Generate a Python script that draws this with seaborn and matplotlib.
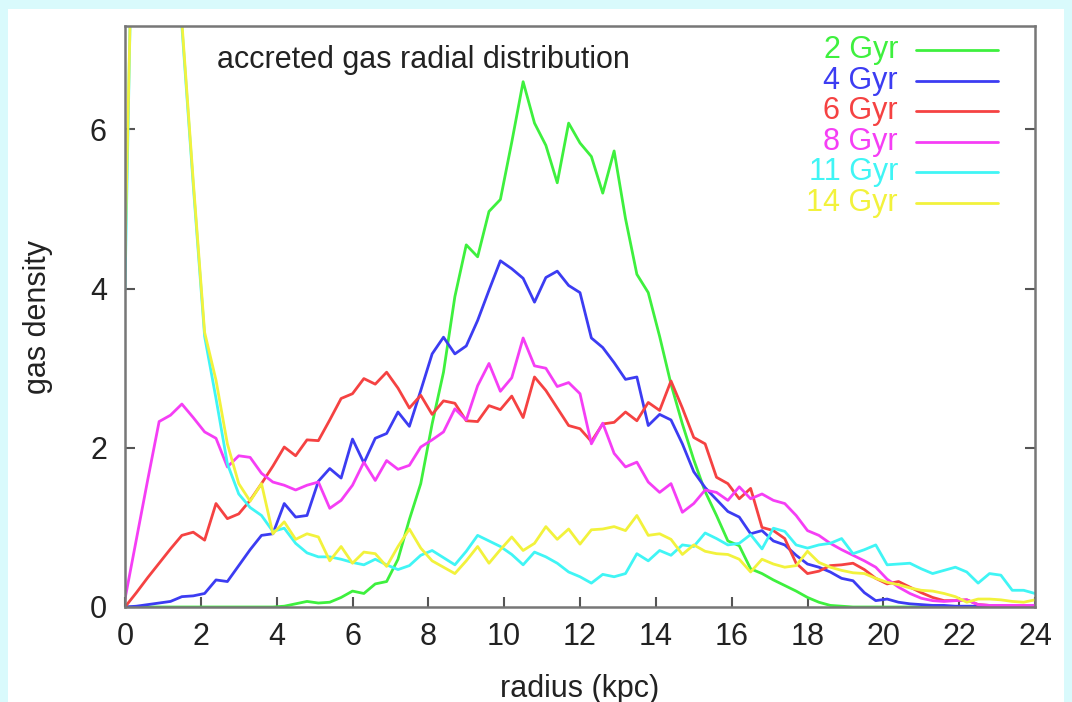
import matplotlib
matplotlib.use("Agg")
import matplotlib.pyplot as plt
from matplotlib.patches import Rectangle
import pandas as pd
import seaborn as sns

# Radial bins (kpc)
radius = [0.0, 0.3, 0.6, 0.9, 1.2, 1.5, 1.8, 2.1, 2.4, 2.7,
          3.0, 3.3, 3.6, 3.9, 4.2, 4.5, 4.8, 5.1, 5.4, 5.7,
          6.0, 6.3, 6.6, 6.9, 7.2, 7.5, 7.8, 8.1, 8.4, 8.7,
          9.0, 9.3, 9.6, 9.9, 10.2, 10.5, 10.8, 11.1, 11.4, 11.7,
          12.0, 12.3, 12.6, 12.9, 13.2, 13.5, 13.8, 14.1, 14.4, 14.7,
          15.0, 15.3, 15.6, 15.9, 16.2, 16.5, 16.8, 17.1, 17.4, 17.7,
          18.0, 18.3, 18.6, 18.9, 19.2, 19.5, 19.8, 20.1, 20.4, 20.7,
          21.0, 21.3, 21.6, 21.9, 22.2, 22.5, 22.8, 23.1, 23.4, 23.7,
          24.0]

density_2gyr = [0, 0, 0, 0, 0, 0, 0, 0, 0, 0,
                0, 0, 0, 0, 0.01, 0.04, 0.07, 0.05, 0.06, 0.12,
                0.2, 0.17, 0.29, 0.32, 0.6, 1.1, 1.55, 2.3, 2.95, 3.9,
                4.55, 4.4, 4.97, 5.12, 5.84, 6.6, 6.08, 5.8, 5.33, 6.08,
                5.83, 5.66, 5.2, 5.73, 4.88, 4.18, 3.95, 3.4, 2.8, 2.3,
                1.85, 1.45, 1.15, 0.83, 0.77, 0.48, 0.42, 0.34, 0.27, 0.2,
                0.12, 0.06, 0.02, 0.01, 0, 0, 0, 0, 0, 0,
                0, 0, 0, 0, 0, 0, 0, 0, 0, 0,
                0]

density_4gyr = [0, 0.01, 0.03, 0.05, 0.07, 0.13, 0.14, 0.17, 0.34, 0.32,
                0.52, 0.72, 0.9, 0.92, 1.3, 1.13, 1.15, 1.58, 1.74, 1.62,
                2.11, 1.81, 2.12, 2.18, 2.45, 2.27, 2.72, 3.18, 3.39, 3.18,
                3.28, 3.6, 3.98, 4.35, 4.25, 4.13, 3.83, 4.14, 4.22, 4.04,
                3.95, 3.38, 3.26, 3.07, 2.86, 2.89, 2.28, 2.42, 2.35, 2.05,
                1.7, 1.5, 1.35, 1.2, 1.13, 0.92, 0.96, 0.83, 0.78, 0.65,
                0.54, 0.5, 0.44, 0.36, 0.33, 0.18, 0.08, 0.1, 0.06, 0.04,
                0.03, 0.02, 0.02, 0.01, 0.01, 0.01, 0, 0, 0, 0,
                0]

density_6gyr = [0, 0.18, 0.37, 0.55, 0.73, 0.9, 0.94, 0.84, 1.3, 1.11,
                1.17, 1.34, 1.55, 1.77, 2.01, 1.9, 2.1, 2.09, 2.35, 2.62,
                2.68, 2.87, 2.8, 2.95, 2.75, 2.5, 2.66, 2.42, 2.59, 2.56,
                2.34, 2.33, 2.53, 2.48, 2.65, 2.38, 2.89, 2.72, 2.5, 2.28,
                2.24, 2.08, 2.3, 2.32, 2.45, 2.34, 2.57, 2.47, 2.84, 2.5,
                2.13, 2.05, 1.63, 1.55, 1.36, 1.49, 1.0, 0.96, 0.86, 0.55,
                0.42, 0.45, 0.52, 0.53, 0.55, 0.47, 0.36, 0.29, 0.32, 0.25,
                0.18, 0.12, 0.08, 0.08, 0.09, 0.03, 0.02, 0.02, 0.01, 0.01,
                0.01]

density_8gyr = [0.1, 0.85, 1.6, 2.33, 2.41, 2.55, 2.38, 2.2, 2.12, 1.76,
                1.9, 1.88, 1.68, 1.57, 1.53, 1.47, 1.53, 1.57, 1.24, 1.34,
                1.53, 1.82, 1.59, 1.84, 1.73, 1.78, 2.01, 2.1, 2.2, 2.49,
                2.35, 2.78, 3.06, 2.71, 2.88, 3.38, 3.03, 3.0, 2.77, 2.82,
                2.68, 2.05, 2.31, 1.93, 1.76, 1.82, 1.57, 1.44, 1.55, 1.19,
                1.3, 1.47, 1.44, 1.34, 1.51, 1.36, 1.42, 1.34, 1.3, 1.15,
                0.96, 0.9, 0.8, 0.72, 0.65, 0.58, 0.5, 0.35, 0.25, 0.17,
                0.11, 0.08, 0.07, 0.08, 0.09, 0.03, 0.02, 0.02, 0.02, 0.02,
                0.02]

density_11gyr = [4.0, 11.5, 13.0, 12.0, 9.5, 7.3, 5.3, 3.4, 2.62, 1.8,
                 1.42, 1.25, 1.15, 0.95, 0.99, 0.8, 0.68, 0.63, 0.63, 0.6,
                 0.56, 0.53, 0.6, 0.53, 0.47, 0.52, 0.65, 0.71, 0.62, 0.53,
                 0.7, 0.9, 0.83, 0.76, 0.66, 0.53, 0.69, 0.63, 0.55, 0.44,
                 0.38, 0.3, 0.41, 0.38, 0.42, 0.67, 0.58, 0.71, 0.65, 0.78,
                 0.76, 0.93, 0.86, 0.78, 0.8, 0.91, 0.73, 0.99, 0.95, 0.78,
                 0.74, 0.78, 0.8, 0.86, 0.67, 0.72, 0.78, 0.53, 0.54, 0.55,
                 0.48, 0.42, 0.46, 0.5, 0.44, 0.3, 0.42, 0.4, 0.21, 0.21,
                 0.17]

density_14gyr = [4.4, 11.0, 13.5, 12.5, 9.6, 7.35, 5.35, 3.45, 2.85, 2.05,
                 1.55, 1.33, 1.55, 0.92, 1.07, 0.85, 0.92, 0.88, 0.58, 0.76,
                 0.55, 0.69, 0.67, 0.51, 0.76, 0.98, 0.74, 0.58, 0.5, 0.42,
                 0.58, 0.76, 0.55, 0.72, 0.88, 0.71, 0.8, 1.01, 0.85, 0.98,
                 0.79, 0.97, 0.98, 1.01, 0.96, 1.15, 0.9, 0.92, 0.85, 0.66,
                 0.78, 0.7, 0.67, 0.66, 0.6, 0.44, 0.6, 0.54, 0.5, 0.52,
                 0.7, 0.56, 0.5, 0.46, 0.43, 0.42, 0.36, 0.31, 0.28, 0.24,
                 0.21, 0.2, 0.17, 0.13, 0.06, 0.1, 0.1, 0.09, 0.07, 0.06,
                 0.09]

ages = ["2 Gyr", "4 Gyr", "6 Gyr", "8 Gyr", "11 Gyr", "14 Gyr"]
colors = ["#3ef03e", "#3c3cf2", "#f54242", "#f53ef5", "#40f5f5", "#f2f23c"]
x_ticks = [0, 2, 4, 6, 8, 10, 12, 14, 16, 18, 20, 22, 24]
y_ticks = [0, 2, 4, 6]

series = [density_2gyr, density_4gyr, density_6gyr,
          density_8gyr, density_11gyr, density_14gyr]
df = pd.concat(
    [pd.DataFrame({"radius": radius, "density": vals, "age": age})
     for age, vals in zip(ages, series)],
    ignore_index=True,
)

sns.set_style("white")
plt.rcParams["font.family"] = ["Liberation Sans", "DejaVu Sans"]

W, H = 1072, 702
FS = 22
TEXT = "#222222"

fig = plt.figure(figsize=(W / 100, H / 100), dpi=100)
fig.patch.set_facecolor("#d9fafc")
fig.add_artist(Rectangle((8 / W, 0), (1064 - 8) / W, (H - 9) / H,
                         transform=fig.transFigure, facecolor="white",
                         edgecolor="none", zorder=0))

L, R, T, B = 125, 1035, 26, 607
ax = fig.add_axes([L / W, 1 - B / H, (R - L) / W, (B - T) / H])
ax.set_facecolor("white")

sns.lineplot(data=df, x="radius", y="density", hue="age", hue_order=ages,
             palette=colors, estimator=None, sort=False, linewidth=2.0,
             legend=False, ax=ax)

ax.set_xlim(0, 24)
ax.set_ylim(0, 7.3)
ax.set_xticks(x_ticks)
ax.set_yticks(y_ticks)
ax.tick_params(axis="both", direction="in", length=7, width=1.5,
               color="#555555", labelsize=FS, labelcolor=TEXT)
ax.tick_params(axis="x", pad=10.5, top=False, bottom=True)
ax.tick_params(axis="y", pad=13, left=True, right=True)
for sp in ax.spines.values():
    sp.set_color("#777777")
    sp.set_linewidth(1.8)

ax.set_xlabel("radius (kpc)", fontsize=FS, color=TEXT, va="center")
ax.xaxis.set_label_coords(0.5, (B - 689) / (B - T))
ax.set_ylabel("gas density", fontsize=FS, color=TEXT, va="center")
ax.yaxis.set_label_coords((38 - L) / (R - L), 0.5)

ax.text((217 - L) / (R - L), (B - 60) / (B - T),
        "accreted gas radial distribution", transform=ax.transAxes,
        ha="left", va="center", fontsize=FS, color=TEXT)

# key: right-aligned coloured labels with a line sample to their right
for i, (age, col) in enumerate(zip(ages, colors)):
    ypx = 50 + 30.6 * i
    ya = (B - ypx) / (B - T)
    ax.text((898 - L) / (R - L), ya, age, transform=ax.transAxes,
            ha="right", va="center", fontsize=FS, color=col)
    ax.plot([(916 - L) / (R - L), (998 - L) / (R - L)], [ya, ya],
            transform=ax.transAxes, color=col, linewidth=2.0, clip_on=False)

fig.savefig("out.png", dpi=100, facecolor=fig.get_facecolor())
